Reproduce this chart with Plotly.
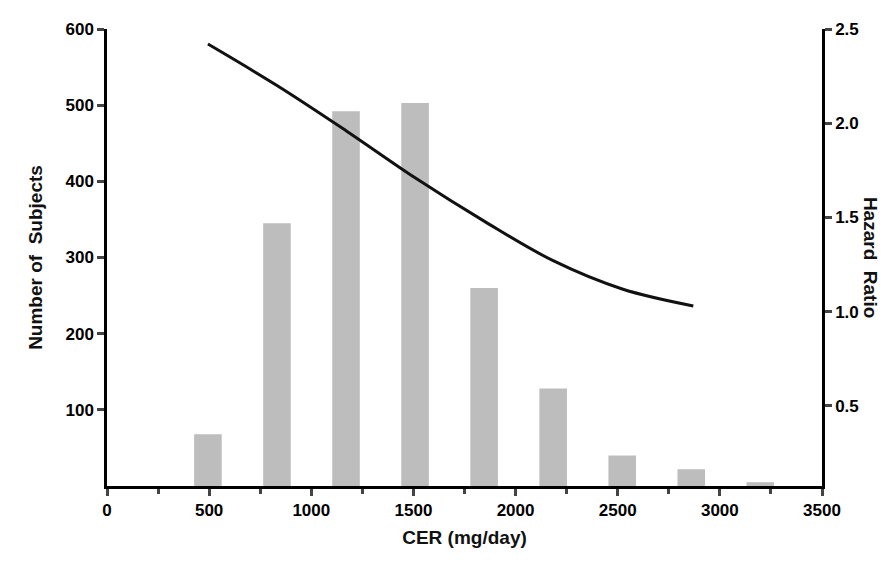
import plotly.graph_objects as go

cer = [494, 832, 1170, 1508, 1846, 2184, 2522, 2860, 3198]
subjects = [68, 345, 492, 503, 260, 128, 40, 22, 5]
line_x = [494, 832, 1170, 1508, 1846, 2184, 2522, 2870]
hazard = [2.42, 2.20, 1.96, 1.71, 1.48, 1.27, 1.12, 1.03]

font = dict(family="Liberation Sans, Arial", size=19, color="#111", weight="bold")
tf = dict(family="Liberation Sans, Arial", size=17, color="black", weight="bold")
fig = go.Figure()
fig.add_bar(x=cer, y=subjects, width=135, marker_color="#bdbdbd", marker_line_width=0)
fig.add_scatter(x=line_x, y=hazard, yaxis="y2", mode="lines", line=dict(color="#111", width=3, shape="spline"))
fig.update_layout(
    width=889, height=564, showlegend=False, plot_bgcolor="white", paper_bgcolor="white",
    margin=dict(l=99, r=75, t=17, b=86), font=font,
    xaxis=dict(range=[0, 3500], tickvals=list(range(0, 3501, 500)), showline=True, linecolor="black", linewidth=2.5,
               ticks="outside", ticklen=7, tickwidth=2.5, showgrid=False, zeroline=False, tickfont=tf,
               minor=dict(tickvals=list(range(250, 3500, 500)), ticks="outside", ticklen=5, tickwidth=2.5),
               title=dict(text="CER (mg/day)", standoff=12, font=font)),
    yaxis=dict(range=[0, 600], tickvals=[100, 200, 300, 400, 500, 600], showline=True, linecolor="black", linewidth=2.5,
               ticks="outside", ticklen=7, tickwidth=2.5, showgrid=False, zeroline=False, tickfont=tf,
               title=dict(text="Number of  Subjects", standoff=18, font=font)),
    yaxis2=dict(range=[0.074, 2.5], tickvals=[0.5, 1.0, 1.5, 2.0, 2.5], tickformat=".1f", overlaying="y", side="right",
                showline=True, linecolor="black", linewidth=2.5, ticks="outside", ticklen=7, tickwidth=2.5,
                showgrid=False, zeroline=False, tickfont=tf),
    annotations=[dict(text="Hazard  Ratio", textangle=90, xref="paper", yref="paper", x=1.068, xanchor="center",
                      y=0.5, showarrow=False, font=font)],
)
fig.write_html("out.html")
